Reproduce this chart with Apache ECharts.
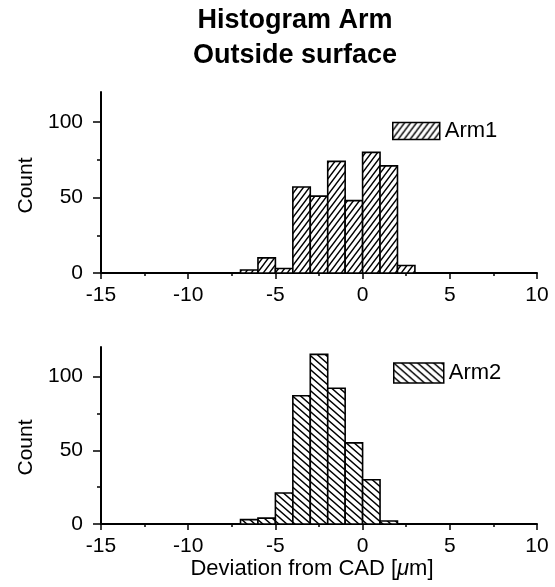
<!DOCTYPE html>
<html>
<head>
<meta charset="utf-8">
<script src="https://cdn.jsdelivr.net/npm/echarts@6/dist/echarts.min.js"></script>
<style>html,body{margin:0;padding:0;background:#fff}#c{width:555px;height:587px}</style>
</head>
<body>
<div id="c"></div>
<script>
// ---- data ----
const titleText = ['Histogram Arm', 'Outside surface'];
const xTicks = [-15, -10, -5, 0, 5, 10];
const xMinorTicks = [-12.5, -7.5, -2.5, 2.5, 7.5];
const yTicks = [0, 50, 100];
const yMinorTicks = [25, 75];
const binWidth = 1;
const arm1BinStart = [-7, -6, -5, -4, -3, -2, -1, 0, 1, 2];
const arm1Counts   = [2, 10, 3, 57, 51, 74, 48, 80, 71, 5];
const arm2BinStart = [-7, -6, -5, -4, -3, -2, -1, 0, 1];
const arm2Counts   = [3, 4, 21, 87, 115, 92, 55, 30, 2];
const seriesNames = ['Arm1', 'Arm2'];
const xName = 'Deviation from CAD [{mu|μ}m]';
const yName = 'Count';

const FONT = "'Liberation Sans', Arial, Helvetica, sans-serif";

function hatch(dir, w, h) {
  const c = document.createElement('canvas');
  c.width = w; c.height = h;
  const g = c.getContext('2d');
  g.fillStyle = '#fff'; g.fillRect(0, 0, w, h);
  g.strokeStyle = '#000'; g.lineWidth = 1.4;
  g.beginPath();
  const e = 0.3;
  for (let k = -1; k <= 1; k++) {
    const dx = k * w;
    if (dir > 0) { g.moveTo(dx - e * w, h + e * h); g.lineTo(dx + w + e * w, -e * h); }
    else { g.moveTo(dx - e * w, -e * h); g.lineTo(dx + w + e * w, h + e * h); }
  }
  g.stroke();
  return { image: c, repeat: 'repeat' };
}
const pat1 = hatch(1, 6, 8);
const pat2 = hatch(-1, 8, 7);

function bins(starts, counts) {
  return starts.map((s, i) => [s, s + binWidth, counts[i]]);
}

function renderHist(pattern) {
  return function (params, api) {
    const p0 = api.coord([api.value(0), api.value(2)]);
    const p1 = api.coord([api.value(1), 0]);
    return {
      type: 'rect',
      shape: { x: p0[0], y: p0[1], width: p1[0] - p0[0], height: p1[1] - p0[1] },
      style: { fill: pattern, stroke: '#000', lineWidth: 1.6 }
    };
  };
}

const grids = [
  { left: 101, right: 18, top: 92, height: 181 },
  { left: 101, right: 18, top: 347, height: 177 }
];

function xAxes(gi, showName) {
  return [{
    gridIndex: gi, type: 'value', min: -15, max: 10, interval: 5,
    position: 'bottom',
    axisLine: { show: true, onZero: false, lineStyle: { color: '#000', width: 2 } },
    axisTick: { show: true, inside: false, length: 6, lineStyle: { color: '#000', width: 1.5 } },
    axisLabel: { color: '#000', fontSize: 21, fontFamily: FONT, margin: 12 },
    splitLine: { show: false },
    name: showName ? xName : '',
    nameLocation: 'middle', nameGap: 23,
    nameTextStyle: { color: '#000', fontSize: 22, fontFamily: FONT, padding: [0, 14, 0, 0],
      rich: { mu: { fontStyle: 'italic', fontSize: 22, fontFamily: FONT, color: '#000' } } }
  }, {
    gridIndex: gi, type: 'value', min: -15, max: 10, position: 'bottom',
    axisLine: { show: false, onZero: false },
    axisTick: { show: true, inside: false, length: 3, customValues: xMinorTicks, lineStyle: { color: '#000', width: 1.5 } },
    axisLabel: { show: false },
    splitLine: { show: false }
  }];
}

function yAxes(gi, namePad) {
  return [{
    gridIndex: gi, type: 'value', min: 0, max: 120, position: 'left',
    axisLine: { show: true, onZero: false, lineStyle: { color: '#000', width: 2 } },
    axisTick: { show: true, inside: false, length: 8, customValues: yTicks, lineStyle: { color: '#000', width: 1.5 } },
    axisLabel: { color: '#000', fontSize: 21, fontFamily: FONT, margin: 18, customValues: yTicks },
    splitLine: { show: false },
    name: yName, nameLocation: 'middle', nameGap: 62, nameRotate: 90,
    nameTextStyle: { color: '#000', fontSize: 21, fontFamily: FONT, padding: namePad }
  }, {
    gridIndex: gi, type: 'value', min: 0, max: 120, position: 'left',
    axisLine: { show: false, onZero: false },
    axisTick: { show: true, inside: false, length: 4, customValues: yMinorTicks, lineStyle: { color: '#000', width: 1.5 } },
    axisLabel: { show: false },
    splitLine: { show: false }
  }];
}

const option = {
  backgroundColor: '#fff',
  animation: false,
  title: {
    text: titleText.join('\n'),
    left: 295, top: 3, textAlign: 'center', padding: 0,
    textStyle: { color: '#000', fontSize: 27, fontWeight: 'bold', fontFamily: FONT, lineHeight: 35 }
  },
  legend: [
    { data: [seriesNames[0]], left: 392, top: 120, padding: 0, icon: 'rect',
      itemWidth: 47, itemHeight: 17, itemGap: 0,
      itemStyle: { borderColor: '#000', borderWidth: 1.5 },
      textStyle: { color: '#000', fontSize: 22, fontFamily: FONT } },
    { data: [seriesNames[1]], left: 393, top: 362, padding: 0, icon: 'rect',
      itemWidth: 50, itemHeight: 20, itemGap: 0,
      itemStyle: { borderColor: '#000', borderWidth: 1.5 },
      textStyle: { color: '#000', fontSize: 22, fontFamily: FONT } }
  ],
  grid: grids,
  xAxis: [...xAxes(0, false), ...xAxes(1, true)],
  yAxis: [...yAxes(0, [0, 6, 0, 0]), ...yAxes(1, [0, 24, 0, 0])],
  series: [
    { name: seriesNames[0], type: 'custom', xAxisIndex: 0, yAxisIndex: 0,
      data: bins(arm1BinStart, arm1Counts), encode: { x: [0, 1], y: 2 },
      itemStyle: { color: pat1, borderColor: '#000', borderWidth: 1.5 },
      renderItem: renderHist(pat1) },
    { name: seriesNames[1], type: 'custom', xAxisIndex: 2, yAxisIndex: 2,
      data: bins(arm2BinStart, arm2Counts), encode: { x: [0, 1], y: 2 },
      itemStyle: { color: pat2, borderColor: '#000', borderWidth: 1.5 },
      renderItem: renderHist(pat2) }
  ]
};

const chart = echarts.init(document.getElementById('c'), null, { renderer: 'canvas' });
chart.setOption(option);
</script>
</body>
</html>
